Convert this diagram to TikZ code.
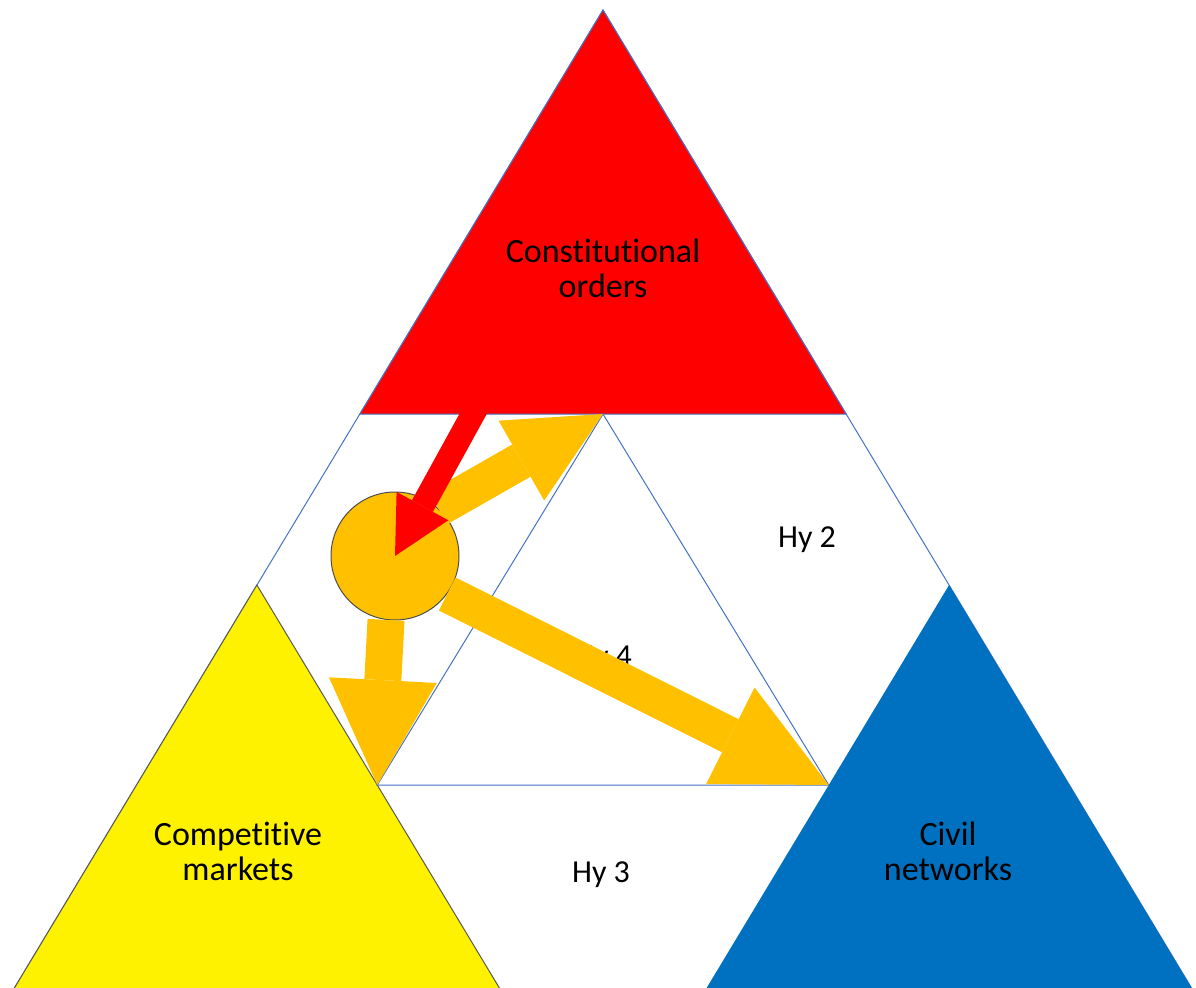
\documentclass[tikz,border=0pt]{standalone}
\usepackage{fontspec}
\setmainfont{Carlito}[Ligatures=NoCommon]
\usetikzlibrary{arrows.meta}
\definecolor{gold}{HTML}{FFC000}
\definecolor{ppblue}{HTML}{0070C0}
\definecolor{edge}{HTML}{4472C4}
\begin{document}
\begin{tikzpicture}[x=0.5pt,y=-0.5pt,
    thin edge/.style={draw=edge,line width=0.5pt},
    lbl/.style={align=center,font=\fontsize{17}{17.5}\selectfont},
    hylbl/.style={font=\fontsize{16}{17}\selectfont},
    fatarrow/.style n args={4}{draw=#1,line width=#2,
        -{Triangle[width=#3,length=#4,line width=0pt]}}]
    \useasboundingbox (0,0) rectangle (1196,987);
    % corners of the big triangle and the inner one
    \coordinate (top) at (603,10);
    \coordinate (bl) at (12,992);
    \coordinate (br) at (1194,992);
    \coordinate (inA) at (603,414);
    \coordinate (inL) at (377.3,785);
    \coordinate (inR) at (828.7,785);
    \draw[thin edge] (top) -- (bl) -- (br) -- cycle;
    % the three corner triangles
    \filldraw[fill=red,thin edge] (top) -- (359.9,414) -- (846.1,414) -- cycle;
    \filldraw[fill=yellow,draw=gray!70!black,line width=0.5pt] (256.9,585) -- (bl) -- (501.8,992) -- cycle;
    \fill[ppblue] (949.1,585) -- (704.2,992) -- (br) -- cycle;
    \draw[thin edge] (inA) -- (inL) -- (inR) -- cycle;
    \node[lbl] (cons) at (603,268) {Constitutional\\orders};
    \node[lbl] (comp) at (238,851) {Competitive\\markets};
    \node[lbl] (civil) at (948,851) {Civil\\networks};
    \node[hylbl] (hy2) at (807,540) {Hy 2};
    \node[hylbl] (hy3) at (601,875) {Hy 3};
    \node[hylbl] (hy4) at (603,659) {Hy 4};
    % hub and block arrows
    \node[circle,minimum size=64pt,inner sep=0pt,fill=gold,draw=gray!60!black,line width=0.5pt] (hub) at (395,556) {};
    \coordinate (redfoot) at (478,405);
    \draw[fatarrow={gold}{18.5pt}{46pt}{47pt}] (hub.48) -- (inA);
    \draw[fatarrow={gold}{18.5pt}{54pt}{52.5pt}] (hub.262) -- (inL);
    \draw[fatarrow={gold}{18.5pt}{54pt}{55pt}] (hub.-36) -- (inR);
    \draw[fatarrow={red}{12pt}{29.5pt}{28.5pt}] (redfoot) -- (hub.center);
\end{tikzpicture}
\end{document}
